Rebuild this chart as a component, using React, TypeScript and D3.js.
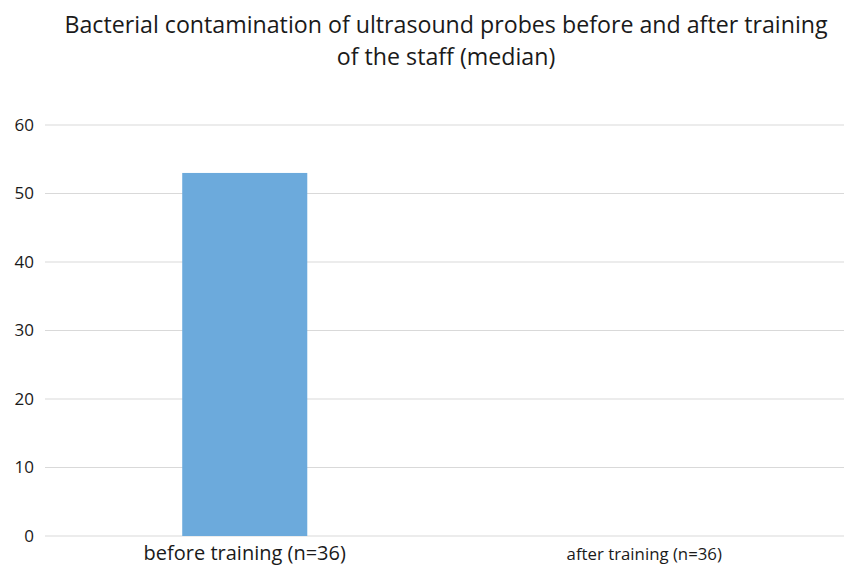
import React, { useEffect, useRef } from 'react';
import * as d3 from 'd3';

const categories = ['before training (n=36)', 'after training (n=36)'];
const values = [53, 0];
const yTicks = [0, 10, 20, 30, 40, 50, 60];
const titleLines = [
  'Bacterial contamination of ultrasound probes before and after training',
  'of the staff (median)',
];
const labelSizes = [20, 16.8];

const App = () => {
  const ref = useRef<SVGSVGElement | null>(null);

  useEffect(() => {
    const width = 846;
    const height = 567;
    const margin = { top: 125, right: 2, bottom: 31, left: 45 };
    const innerW = width - margin.left - margin.right;
    const innerH = height - margin.top - margin.bottom;

    const svg = d3.select(ref.current);
    svg.selectAll('*').remove();
    svg.attr('width', width).attr('height', height).style('font-family', '"Open Sans", sans-serif');

    svg.append('rect').attr('width', width).attr('height', height).attr('fill', '#fff');

    svg.selectAll('.title')
      .data(titleLines)
      .enter().append('text')
      .attr('class', 'title')
      .attr('x', 446)
      .attr('y', (d, i) => 33 + i * 32)
      .attr('text-anchor', 'middle')
      .attr('font-size', 23.2)
      .attr('fill', '#1a1a1a')
      .text(d => d);

    const g = svg.append('g').attr('transform', `translate(${margin.left},${margin.top})`);

    const x = d3.scaleBand().domain(categories).range([0, innerW]).padding(0);
    const y = d3.scaleLinear().domain([0, 60]).range([innerH, 0]);

    // gridlines
    g.selectAll('.grid')
      .data(yTicks)
      .enter().append('line')
      .attr('x1', 0)
      .attr('x2', innerW)
      .attr('y1', d => y(d))
      .attr('y2', d => y(d))
      .attr('stroke', '#d9d9d9')
      .attr('stroke-width', 1);

    // y labels
    g.selectAll('.ylab')
      .data(yTicks)
      .enter().append('text')
      .attr('x', -11)
      .attr('y', d => y(d))
      .attr('dy', '0.35em')
      .attr('text-anchor', 'end')
      .attr('font-size', 17)
      .attr('fill', '#1a1a1a')
      .text(d => d);

    const barFrac = 0.313;
    g.selectAll('.bar')
      .data(values)
      .enter().append('rect')
      .attr('x', (d, i) => x(categories[i])! + x.bandwidth() * (1 - barFrac) / 2)
      .attr('width', x.bandwidth() * barFrac)
      .attr('y', d => y(d))
      .attr('height', d => innerH - y(d))
      .attr('fill', '#6CAADC');

    g.selectAll('.xlab')
      .data(categories)
      .enter().append('text')
      .attr('x', d => x(d)! + x.bandwidth() / 2)
      .attr('y', innerH + 24)
      .attr('text-anchor', 'middle')
      .attr('font-size', (d, i) => labelSizes[i])
      .attr('fill', '#1a1a1a')
      .text(d => d);
  }, []);

  return <svg ref={ref} style={{ position: 'absolute', left: 0, top: 0 }} />;
};

export default App;
